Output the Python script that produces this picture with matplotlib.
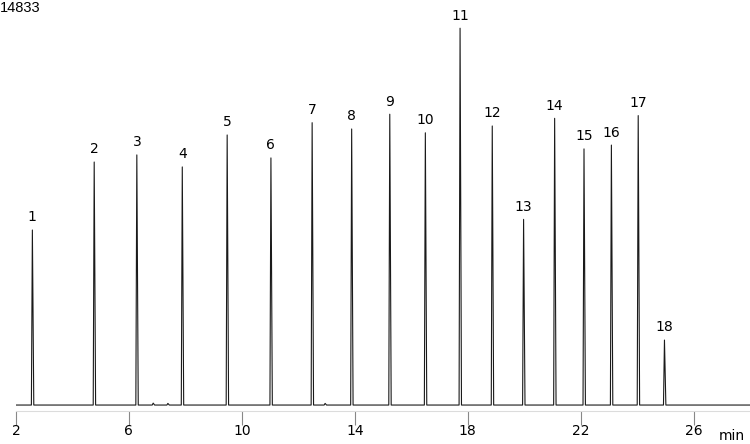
import matplotlib.pyplot as plt

# peak table
peak_ids = list(range(1, 19))
ret_times = [2.58, 4.77, 6.28, 7.89, 9.48, 11.03, 12.49, 13.89, 15.24,
             16.50, 17.73, 18.87, 19.98, 21.08, 22.12, 23.09, 24.04, 24.97]
heights = [6410, 8900, 9160, 8720, 9890, 9050, 10340, 10110, 10650,
           9970, 13800, 10220, 6800, 10500, 9380, 9520, 10600, 2380]

# tiny baseline bumps
bump_times = [6.86, 7.38, 12.95]
bump_heights = [70, 60, 60]

y_max = 14833
x_ticks = [2, 6, 10, 14, 18, 22, 26]

# polyline through baseline and peak apexes
pts = [(2.0, 0), (28.0, 0)]
for t, h in zip(ret_times + bump_times, heights + bump_heights):
    pts += [(t - 0.035, 0), (t, h), (t + 0.05, 0)]
pts.sort()
xs = [p[0] for p in pts]
ys = [p[1] for p in pts]

fig = plt.figure(figsize=(7.5, 4.44), dpi=100)
ax = fig.add_axes([16 / 750, 1 - 410.5 / 444, 734 / 750, 410.5 / 444])
ax.plot(xs, ys, color='#1a1a1a', lw=0.8)

for pid, t, h in zip(peak_ids, ret_times, heights):
    ax.annotate(str(pid), (t, h), xytext=(0, 4), textcoords='offset points',
                ha='center', va='bottom', fontsize=10, family='DejaVu Sans',
                color='black')

ax.set_xlim(2, 28)
ax.set_ylim(-200, y_max)
for side in ['top', 'left', 'right']:
    ax.spines[side].set_visible(False)
ax.spines['bottom'].set_color('#dcdcdc')
ax.set_yticks([])
ax.set_xticks(x_ticks)
ax.set_xticklabels([str(v) for v in x_ticks], fontsize=10, family='DejaVu Sans')
ax.tick_params(axis='x', direction='out', length=10, width=0.8, color='#888888', pad=0)

fig.text(0.0, 1 - 1 / 444, '14833', ha='left', va='top', fontsize=10.5,
         family='Liberation Sans')
fig.text(732 / 750, 1 - 436 / 444, 'min', ha='center', va='center', fontsize=10,
         family='DejaVu Sans')

fig.savefig('out.png', dpi=100)
